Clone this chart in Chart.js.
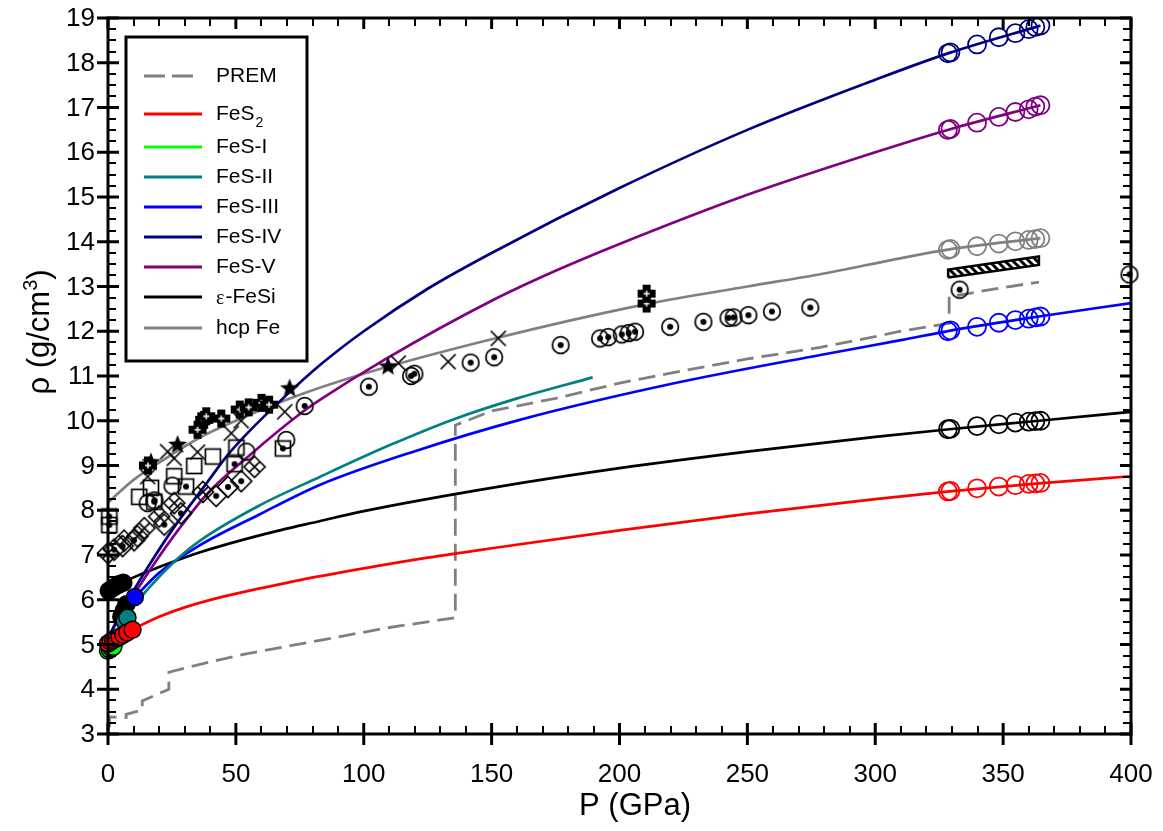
<!DOCTYPE html>
<html>
<head>
<meta charset="utf-8">
<script src="https://cdn.jsdelivr.net/npm/chart.js@4.4.1/dist/chart.umd.min.js"></script>
<style>
  html, body { margin: 0; padding: 0; background: #fff; }
  canvas { display: block; }
</style>
</head>
<body>
<canvas id="chart" width="1163" height="831"></canvas>
<script>
const FONT = '"Liberation Sans", Arial, sans-serif';

// Axis ticks
const xTickValues = [0, 50, 100, 150, 200, 250, 300, 350, 400];
const yTickValues = [3, 4, 5, 6, 7, 8, 9, 10, 11, 12, 13, 14, 15, 16, 17, 18, 19];

// Reference Earth model (P in GPa, density in g/cm3)
const prem = [[0, 2.6], [0.6, 2.9], [0.6, 3.38], [7.1, 3.37], [7.1, 3.44], [13.4, 3.54], [13.4, 3.74],
  [23.8, 4.0], [23.8, 4.38], [34, 4.53], [53, 4.78], [73, 4.99], [90, 5.17], [110, 5.38], [135.8, 5.6],
  [135.8, 9.9], [150, 10.22], [175, 10.5], [200, 10.84], [225, 11.12], [250, 11.38], [278.5, 11.64],
  [300, 11.88], [310, 12.0], [328.9, 12.18], [328.9, 12.77], [345, 12.93], [364, 13.1]];

// Compression curves
const fes2 = [[0, 5.02], [5, 5.2], [9.7, 5.34], [20, 5.62], [30, 5.83], [45, 6.07], [60, 6.26], [75, 6.44],
  [100, 6.7], [125, 6.94], [150, 7.15], [200, 7.55], [250, 7.92], [300, 8.25], [329, 8.42], [364, 8.6], [400, 8.76]];
const fes1 = [[0, 4.85], [2.5, 4.97]];
const fes2Phase = [[6.5, 5.52], [10, 5.85], [15, 6.2], [25, 6.8], [36, 7.32], [59, 8.1], [83, 8.75],
  [110, 9.45], [135, 10.03], [160, 10.5], [189.5, 10.97]];
const fes3 = [[10.5, 6.06], [20, 6.6], [36, 7.22], [59, 7.9], [83, 8.57], [120, 9.32], [161, 10.02],
  [220, 10.82], [278.5, 11.47], [310, 11.8], [329, 12.01], [364, 12.33], [400, 12.63]];
const fes4 = [[0, 5.15], [5, 5.7], [10, 6.2], [15.5, 6.72], [25, 7.55], [39, 8.64], [46.3, 9.2], [55, 9.75],
  [68.4, 10.5], [83, 11.25], [100, 12.0], [125, 12.95], [150, 13.75], [200, 15.2], [250, 16.5],
  [300, 17.62], [329, 18.22], [364.6, 18.83]];
const fes5 = [[0, 5.15], [5, 5.65], [10, 6.1], [17.4, 6.75], [28, 7.6], [39, 8.38], [55.4, 9.23], [75, 10.15],
  [83, 10.47], [108, 11.36], [150, 12.68], [175, 13.35], [200, 13.95], [250, 15.05], [300, 16.0],
  [329, 16.51], [364.6, 17.05]];
const fesi = [[0, 6.2], [10, 6.5], [20, 6.73], [36, 7.06], [60, 7.45], [83, 7.76], [100, 7.98],
  [150, 8.5], [200, 8.94], [250, 9.31], [300, 9.64], [329, 9.81], [364, 10.0], [400, 10.2]];
const hcpFe = [[0, 8.17], [10, 8.68], [24.6, 9.23], [35.8, 9.62], [50, 10.0], [75, 10.58], [100, 11.05],
  [150, 11.82], [210, 12.6], [250, 13.0], [279, 13.28], [309.7, 13.63], [329, 13.83], [364.6, 14.08]];

// Inner-core density band
const coreBand = [[328.5, 13.2], [364, 13.48], [364, 13.67], [328.5, 13.38], [328.5, 13.2]];

// Computed points at core pressures
const coreP = [328.4, 329.4, 339.8, 348.3, 354.8, 360.0, 362.6, 364.6];
const coreFes4 = [18.21, 18.23, 18.41, 18.57, 18.66, 18.75, 18.80, 18.83];
const coreFes5 = [16.50, 16.52, 16.66, 16.79, 16.90, 16.96, 17.02, 17.05];
const coreFe = [13.82, 13.84, 13.90, 13.96, 14.01, 14.04, 14.06, 14.08];
const coreFes3 = [12.00, 12.02, 12.10, 12.19, 12.25, 12.28, 12.31, 12.33];
const coreFesi = [9.81, 9.82, 9.88, 9.92, 9.96, 9.98, 9.99, 10.00];
const coreFes2 = [8.42, 8.43, 8.49, 8.53, 8.56, 8.59, 8.60, 8.61];

// Measurements near ambient pressure
const dotsFesi = [[0.3, 6.2], [1.6, 6.25], [3, 6.3], [4.5, 6.35], [6, 6.38], [5.2, 5.62], [6.2, 5.76], [7.2, 5.9]];
const dotsFes2Phase = [[6.5, 5.52], [7.6, 5.6]];
const dotsFes3 = [[10.5, 6.06]];
const dotsFes2 = [[0, 5.02], [1, 5.06], [2, 5.1], [3, 5.13], [4.5, 5.17], [6, 5.22], [7.5, 5.27], [9.6, 5.33]];
const dotsFes1 = [[0, 4.86], [0.7, 4.89], [1.4, 4.92], [2.1, 4.95]];

// Experimental data (black symbols)
const ringDotPts = [[18.2, 8.22], [76.9, 10.33], [102, 10.76], [118.5, 11.0], [119.8, 11.05], [141.8, 11.3],
  [151, 11.42], [177, 11.69], [192.4, 11.84], [195.6, 11.87], [200.9, 11.93], [203.6, 11.96], [206.1, 11.99],
  [219.8, 12.1], [232.8, 12.21], [242.6, 12.3], [244.6, 12.31], [250.4, 12.36], [259.6, 12.44],
  [274.6, 12.53], [333, 12.93], [399.4, 13.27]];
const ringPts = [[15.5, 8.16], [25.2, 8.55], [54.1, 9.31], [69.7, 9.57]];
const squarePts = [[12.2, 8.3], [16.8, 8.5], [25.9, 8.76], [33.7, 8.99], [41, 9.2], [50.2, 9.4]];
const squareDotPts = [[0.5, 7.86], [0.5, 7.67], [18.1, 8.19], [30.5, 8.53], [49.5, 9.03], [68.4, 9.38]];
const diamondXPts = [[0, 7.04], [6.3, 7.32], [11.5, 7.42], [14.2, 7.6], [20, 7.86], [25.9, 8.16], [37.1, 8.41], [57.3, 8.97]];
const diamondDotPts = [[2.4, 7.12], [5.7, 7.2], [10.2, 7.33], [22, 7.68], [28.5, 7.93], [42.3, 8.32], [46.9, 8.52], [52.1, 8.65]];
const crossPts = [[15.5, 8.75], [23.3, 9.31], [25.9, 9.16], [35, 9.3], [48.2, 9.72], [52.1, 10.0], [69.1, 10.2],
  [113.5, 11.29], [133, 11.32], [152.6, 11.84]];
const plusPts = [[15.6, 9.0], [35, 9.8], [37.6, 10.02], [38.4, 10.1], [44.3, 10.05], [51.5, 10.25], [55, 10.3],
  [60, 10.4], [63, 10.36], [210.6, 12.62], [210.6, 12.84]];
const starPts = [[16.8, 9.07], [27.2, 9.46], [71, 10.72], [109.5, 11.21]];

const COLORS = {
  prem: '#808080', fes2: '#ff0000', fes1: '#00ff00', fes2Phase: '#008080', fes3: '#0000ff',
  fes4: '#000080', fes5: '#800080', fesi: '#000000', fe: '#808080'
};

const xy = arr => arr.map(([x, y]) => ({x, y}));
const zipP = (ys) => coreP.map((p, i) => ({x: p, y: ys[i]}));

// Symbol images for the experimental data
function makeMarker(kind) {
  const s = 26;
  const cv = document.createElement('canvas');
  cv.width = s; cv.height = s;
  const g = cv.getContext('2d');
  g.translate(s / 2, s / 2);
  g.strokeStyle = '#000';
  g.fillStyle = '#000';
  g.lineWidth = 1.7;
  const dot = r => { g.beginPath(); g.arc(0, 0, r, 0, Math.PI * 2); g.fill(); };
  const diamond = r => {
    g.beginPath(); g.moveTo(0, -r); g.lineTo(r, 0); g.lineTo(0, r); g.lineTo(-r, 0); g.closePath(); g.stroke();
  };
  switch (kind) {
    case 'ringDot':
      g.beginPath(); g.arc(0, 0, 8.3, 0, Math.PI * 2); g.stroke(); dot(3); break;
    case 'ring':
      g.beginPath(); g.arc(0, 0, 8.3, 0, Math.PI * 2); g.stroke(); break;
    case 'square':
      g.strokeRect(-7.5, -7.5, 15, 15); break;
    case 'squareDot':
      g.strokeRect(-7.5, -7.5, 15, 15); dot(3); break;
    case 'diamondX':
      diamond(10.5);
      g.beginPath(); g.moveTo(-5.2, -5.2); g.lineTo(5.2, 5.2); g.moveTo(5.2, -5.2); g.lineTo(-5.2, 5.2); g.stroke();
      break;
    case 'diamondDot':
      diamond(10.5); dot(3); break;
    case 'cross':
      g.beginPath(); g.moveTo(-7.5, -7.5); g.lineTo(7.5, 7.5); g.moveTo(7.5, -7.5); g.lineTo(-7.5, 7.5); g.stroke();
      break;
    case 'plus': {
      const a = 9, w = 4;
      g.fillRect(-w, -a, 2 * w, 2 * a);
      g.fillRect(-a, -w, 2 * a, 2 * w);
      g.strokeStyle = '#fff'; g.lineWidth = 1.4;
      g.beginPath(); g.moveTo(-3, 0); g.lineTo(3, 0); g.moveTo(0, -3); g.lineTo(0, 3); g.stroke();
      break;
    }
    case 'star': {
      g.beginPath();
      for (let i = 0; i < 10; i++) {
        const r = i % 2 === 0 ? 10 : 4.3;
        const ang = -Math.PI / 2 + i * Math.PI / 5;
        const px = r * Math.cos(ang), py = r * Math.sin(ang);
        if (i === 0) g.moveTo(px, py); else g.lineTo(px, py);
      }
      g.closePath(); g.fill();
      break;
    }
  }
  return cv;
}

// Diagonal hatch for the inner-core band
function makeHatch() {
  const cv = document.createElement('canvas');
  cv.width = 8; cv.height = 8;
  const g = cv.getContext('2d');
  g.fillStyle = '#fff'; g.fillRect(0, 0, 8, 8);
  g.strokeStyle = '#000'; g.lineWidth = 3;
  g.beginPath();
  g.moveTo(-2, -2); g.lineTo(10, 10);
  g.moveTo(-2, 6); g.lineTo(2, 10);
  g.moveTo(6, -2); g.lineTo(10, 2);
  g.stroke();
  return cv;
}
const ctx0 = document.getElementById('chart').getContext('2d');
const hatch = ctx0.createPattern(makeHatch(), 'repeat');

function curve(data, color, extra = {}) {
  return Object.assign({
    data: xy(data), showLine: true, borderColor: color, borderWidth: 2.7, pointRadius: 0,
    cubicInterpolationMode: 'monotone', fill: false, order: 3
  }, extra);
}
function symbols(data, kind) {
  return {
    data: xy(data), showLine: false, pointStyle: makeMarker(kind), pointRadius: 9,
    clip: false, order: 0
  };
}
function coreRings(ys, color) {
  return {
    data: zipP(ys), showLine: false, pointStyle: 'circle', pointRadius: 9,
    pointBorderWidth: 1.8, pointBorderColor: color, pointBackgroundColor: 'rgba(0,0,0,0)', order: 1
  };
}
function bigDots(data, color) {
  return {
    data: xy(data), showLine: false, pointStyle: 'circle', pointRadius: 8.5,
    pointBorderWidth: 1.5, pointBorderColor: '#000', pointBackgroundColor: color, clip: false, order: 0
  };
}

const datasets = [
  bigDots(dotsFes2, COLORS.fes2),
  bigDots(dotsFes3, COLORS.fes3),
  bigDots(dotsFes2Phase, COLORS.fes2Phase),
  bigDots(dotsFesi, '#000'),
  bigDots(dotsFes1, COLORS.fes1),
  symbols(ringDotPts, 'ringDot'),
  symbols(ringPts, 'ring'),
  symbols(squarePts, 'square'),
  symbols(squareDotPts, 'squareDot'),
  symbols(diamondXPts, 'diamondX'),
  symbols(diamondDotPts, 'diamondDot'),
  symbols(crossPts, 'cross'),
  symbols(plusPts, 'plus'),
  symbols(starPts, 'star'),
  coreRings(coreFes4, COLORS.fes4),
  coreRings(coreFes5, COLORS.fes5),
  coreRings(coreFe, COLORS.fe),
  coreRings(coreFes3, COLORS.fes3),
  coreRings(coreFesi, COLORS.fesi),
  coreRings(coreFes2, COLORS.fes2),
  {
    data: xy(coreBand), showLine: true, borderColor: '#000', borderWidth: 2.5, pointRadius: 0,
    fill: 'shape', backgroundColor: hatch, tension: 0, order: 2
  },
  curve(fes2, COLORS.fes2),
  curve(fes1, COLORS.fes1),
  curve(fes2Phase, COLORS.fes2Phase),
  curve(fes3, COLORS.fes3),
  curve(fes4, COLORS.fes4),
  curve(fes5, COLORS.fes5),
  curve(fesi, COLORS.fesi),
  curve(hcpFe, COLORS.fe),
  curve(prem, COLORS.prem, {borderDash: [17, 8], cubicInterpolationMode: 'default', tension: 0, borderWidth: 2.8})
];

// Legend entries
const legendItems = [
  {text: 'PREM', color: COLORS.prem, dash: true},
  {text: 'FeS', sub: '2', color: COLORS.fes2},
  {text: 'FeS-I', color: COLORS.fes1},
  {text: 'FeS-II', color: COLORS.fes2Phase},
  {text: 'FeS-III', color: COLORS.fes3},
  {text: 'FeS-IV', color: COLORS.fes4},
  {text: 'FeS-V', color: COLORS.fes5},
  {text: '-FeSi', greek: 'ε', color: COLORS.fesi},
  {text: 'hcp Fe', color: COLORS.fe}
];
const legendRowY = [76, 114, 147, 177, 207, 237, 267, 297, 328];

const framePlugin = {
  id: 'frameAndTicks',
  afterDatasetsDraw(chart) {
    const {ctx, chartArea: a, scales: {x, y}} = chart;
    ctx.save();
    ctx.strokeStyle = '#000';
    ctx.lineCap = 'butt';
    // minor ticks, pointing inward
    ctx.lineWidth = 2;
    ctx.beginPath();
    for (let v = 10; v < 400; v += 10) {
      if (v % 50 === 0) continue;
      const px = Math.round(x.getPixelForValue(v));
      ctx.moveTo(px, a.bottom); ctx.lineTo(px, a.bottom - 8);
      ctx.moveTo(px, a.top); ctx.lineTo(px, a.top + 8);
    }
    for (let k = 1; k < 64; k++) {
      if (k % 4 === 0) continue;
      const py = Math.round(y.getPixelForValue(3 + k * 0.25));
      ctx.moveTo(a.left, py); ctx.lineTo(a.left + 8, py);
      ctx.moveTo(a.right, py); ctx.lineTo(a.right - 8, py);
    }
    ctx.stroke();
    // major ticks
    ctx.lineWidth = 3;
    ctx.beginPath();
    xTickValues.forEach(v => {
      const px = x.getPixelForValue(v);
      ctx.moveTo(px, a.bottom + 11); ctx.lineTo(px, a.bottom - 11);
      ctx.moveTo(px, a.top); ctx.lineTo(px, a.top + 11);
    });
    yTickValues.forEach(v => {
      const py = y.getPixelForValue(v);
      ctx.moveTo(a.left - 11, py); ctx.lineTo(a.left + 11, py);
      ctx.moveTo(a.right, py); ctx.lineTo(a.right - 11, py);
    });
    ctx.stroke();
    ctx.strokeRect(a.left, a.top, a.right - a.left, a.bottom - a.top);

    // tick labels
    ctx.fillStyle = '#000';
    ctx.font = '26px ' + FONT;
    ctx.textBaseline = 'middle';
    ctx.textAlign = 'center';
    xTickValues.forEach(v => ctx.fillText(String(v), x.getPixelForValue(v), 775));
    ctx.textAlign = 'right';
    yTickValues.forEach(v => ctx.fillText(String(v), 95, y.getPixelForValue(v) + 1));
    ctx.restore();
  },
  afterDraw(chart) {
    const {ctx} = chart;
    ctx.save();
    // axis titles
    ctx.fillStyle = '#000';
    ctx.textBaseline = 'middle';
    ctx.textAlign = 'center';
    ctx.font = '31px ' + FONT;
    ctx.fillText('P (GPa)', 635, 806);

    ctx.translate(40, 332);
    ctx.rotate(-Math.PI / 2);
    const main = 'ρ (g/cm';
    ctx.font = '31px ' + FONT;
    const wMain = ctx.measureText(main).width;
    ctx.font = '20px ' + FONT;
    const wSup = ctx.measureText('3').width;
    ctx.font = '31px ' + FONT;
    const wClose = ctx.measureText(')').width;
    let tx = -(wMain + wSup + wClose) / 2;
    ctx.textAlign = 'left';
    ctx.fillText(main, tx, 0);
    tx += wMain;
    ctx.font = '20px ' + FONT;
    ctx.fillText('3', tx, -9);
    tx += wSup;
    ctx.font = '31px ' + FONT;
    ctx.fillText(')', tx, 0);
    ctx.restore();

    // legend box
    ctx.save();
    ctx.fillStyle = '#fff';
    ctx.fillRect(126, 37, 181, 324);
    ctx.strokeStyle = '#000';
    ctx.lineWidth = 3;
    ctx.strokeRect(126, 37, 181, 324);
    legendItems.forEach((it, i) => {
      const yy = legendRowY[i];
      ctx.beginPath();
      ctx.strokeStyle = it.color;
      ctx.lineWidth = 3;
      if (it.dash) {
        ctx.setLineDash([21, 7]);
        ctx.moveTo(144, yy); ctx.lineTo(194, yy);
      } else {
        ctx.setLineDash([]);
        ctx.moveTo(144, yy); ctx.lineTo(202, yy);
      }
      ctx.stroke();
      ctx.setLineDash([]);
      ctx.fillStyle = '#000';
      ctx.textAlign = 'left';
      ctx.textBaseline = 'middle';
      let tx = 216;
      if (it.greek) {
        ctx.font = '20px "Liberation Serif", serif';
        ctx.fillText(it.greek, tx, yy + 2);
        tx += ctx.measureText(it.greek).width + 1;
      }
      ctx.font = '21px ' + FONT;
      ctx.fillText(it.text, tx, yy);
      if (it.sub) {
        tx += ctx.measureText(it.text).width;
        ctx.font = '14px ' + FONT;
        ctx.fillText(it.sub, tx + 1, yy + 9);
      }
    });
    ctx.restore();
  }
};

Chart.defaults.font.family = FONT;
Chart.defaults.color = '#000';

new Chart(ctx0, {
  type: 'scatter',
  data: {datasets},
  options: {
    responsive: false,
    animation: false,
    devicePixelRatio: 1,
    layout: {padding: {left: 0, right: 32, top: 18, bottom: 0}},
    plugins: {legend: {display: false}, tooltip: {enabled: false}},
    scales: {
      x: {
        type: 'linear', min: 0, max: 400,
        grid: {display: false, drawTicks: false}, border: {display: false},
        ticks: {display: false},
        afterBuildTicks: s => { s.ticks = xTickValues.map(v => ({value: v})); },
        afterFit: s => { s.height = 97; }
      },
      y: {
        type: 'linear', min: 3, max: 19,
        grid: {display: false, drawTicks: false}, border: {display: false},
        ticks: {display: false},
        afterBuildTicks: s => { s.ticks = yTickValues.map(v => ({value: v})); },
        afterFit: s => { s.width = 108; }
      }
    }
  },
  plugins: [framePlugin]
});
</script>
</body>
</html>
